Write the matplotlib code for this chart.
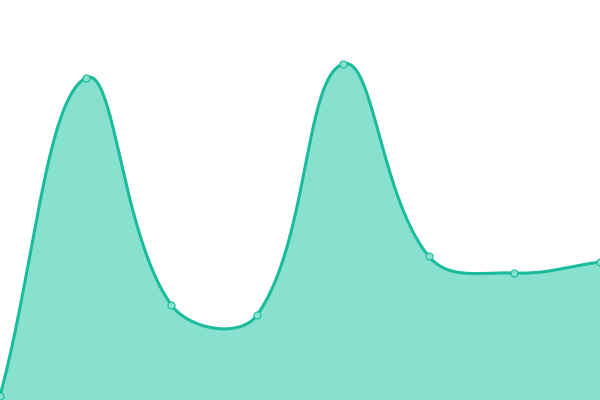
import matplotlib.pyplot as plt
import numpy as np

# data
x = [0, 1, 2, 3, 4, 5, 6, 7]
values = [4, 322, 95, 85, 336, 144, 127, 138]

line_color = "#1abc9c"
fill_color = "#88e0cf"

W, H = 600, 400


def spline(xs, ys, t=0.4, n=50):
    # bezier spline with control points from neighbour distances (screen space)
    p = np.column_stack([np.asarray(xs, float) * W / (len(xs) - 1),
                         np.asarray(ys, float)])
    m = len(p)
    cp_prev = p.copy()
    cp_next = p.copy()
    for i in range(m):
        a = p[max(i - 1, 0)]
        b = p[i]
        c = p[min(i + 1, m - 1)]
        d01 = np.hypot(*(b - a))
        d12 = np.hypot(*(c - b))
        tot = d01 + d12
        fa = t * d01 / tot if tot else 0
        fb = t * d12 / tot if tot else 0
        cp_prev[i] = b - fa * (c - a)
        cp_next[i] = b + fb * (c - a)
    cp_prev[:, 1] = np.clip(cp_prev[:, 1], 0, H)
    cp_next[:, 1] = np.clip(cp_next[:, 1], 0, H)
    s = np.linspace(0, 1, n)[:, None]
    segs = []
    for i in range(m - 1):
        P0, P1, P2, P3 = p[i], cp_next[i], cp_prev[i + 1], p[i + 1]
        segs.append((1 - s)**3 * P0 + 3 * (1 - s)**2 * s * P1
                    + 3 * (1 - s) * s**2 * P2 + s**3 * P3)
    out = np.vstack(segs)
    return out[:, 0] * (len(xs) - 1) / W, out[:, 1]


sx, sy = spline(x, values)

fig = plt.figure(figsize=(6, 4), dpi=100)
ax = fig.add_axes([0, 0, 1, 1])
ax.fill_between(sx, sy, 0, color=fill_color, lw=0)
ax.plot(sx, sy, color=line_color, lw=2.2, solid_capstyle="round")
ax.scatter(x, values, s=26, facecolor=fill_color, edgecolor=line_color,
           linewidth=0.8, zorder=3, clip_on=False)
ax.set_xlim(0, 7)
ax.set_ylim(0, 400)
ax.axis("off")
fig.savefig("out.png", dpi=100)
